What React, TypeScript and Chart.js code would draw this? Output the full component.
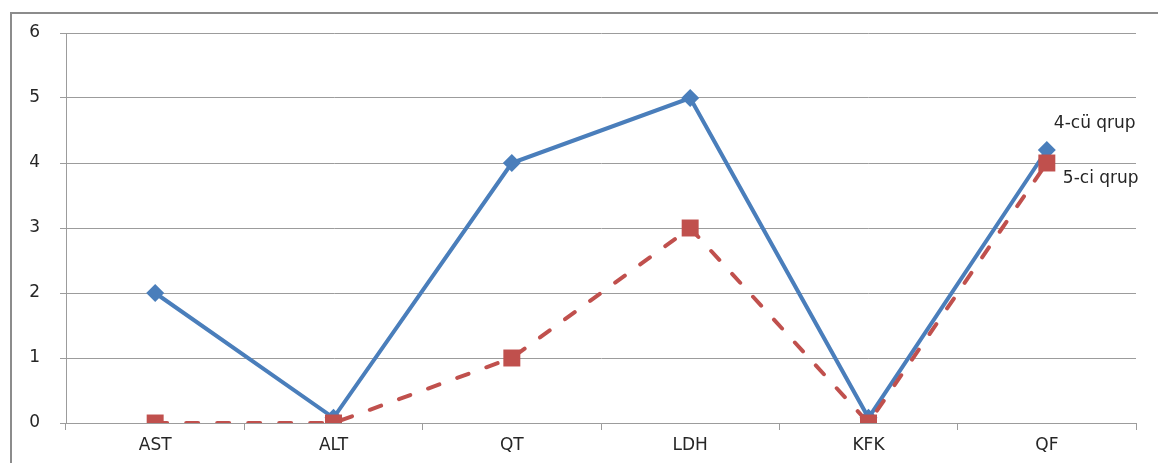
import React, { useEffect, useRef } from "react";
import { Chart, registerables } from "chart.js";

Chart.register(...registerables);

const categories = ["AST", "ALT", "QT", "LDH", "KFK", "QF"];
const group4 = [2, 0.08, 4, 5, 0.08, 4.2];
const group5 = [0, 0, 1, 3, 0, 4];
const seriesNames = ["4-cü qrup", "5-ci qrup"];
const yTicks = [0, 1, 2, 3, 4, 5, 6];

const BLUE = "#4A7EBB";
const RED = "#C0504D";
const GRID = "#9C9C9C";
const TEXT = "#262626";
const FONT = "'DejaVu Sans', sans-serif";

// Outer frame around the chart
const framePlugin = {
  id: "frame",
  beforeDraw(chart: any) {
    const ctx = chart.ctx;
    ctx.save();
    ctx.strokeStyle = "#8C8C8C";
    ctx.lineWidth = 2;
    ctx.strokeRect(11, 13, chart.width + 20, chart.height + 20);
    ctx.restore();
  },
};

// Series names written beside the last point of each line
const endLabelPlugin = {
  id: "endLabels",
  afterDatasetsDraw(chart: any) {
    const ctx = chart.ctx;
    ctx.save();
    ctx.font = `17px ${FONT}`;
    ctx.fillStyle = TEXT;
    ctx.textBaseline = "middle";
    ctx.textAlign = "left";
    const offsets = [
      { dx: 7, dy: -26 },
      { dx: 16, dy: 16 },
    ];
    chart.data.datasets.forEach((ds: any, i: number) => {
      const meta = chart.getDatasetMeta(i);
      const pt = meta.data[meta.data.length - 1];
      const o = offsets[i];
      ctx.fillText(ds.label, pt.x + o.dx, pt.y + o.dy);
    });
    ctx.restore();
  },
};

export default function App() {
  const ref = useRef<HTMLCanvasElement | null>(null);

  useEffect(() => {
    if (!ref.current) return;
    const chart = new Chart(ref.current, {
      type: "line",
      data: {
        labels: categories,
        datasets: [
          {
            label: seriesNames[0],
            data: group4,
            borderColor: BLUE,
            backgroundColor: BLUE,
            borderWidth: 4,
            pointStyle: "rectRot",
            pointRadius: 9,
            pointBorderWidth: 0,
            pointBackgroundColor: BLUE,
            tension: 0,
            order: 1,
          },
          {
            label: seriesNames[1],
            data: group5,
            borderColor: RED,
            backgroundColor: RED,
            borderWidth: 4,
            borderDash: [12, 19],
            borderCapStyle: "round",
            pointStyle: "rect",
            pointRadius: 12,
            pointBorderWidth: 0,
            pointBackgroundColor: RED,
            tension: 0,
            order: 0,
          },
        ],
      },
      options: {
        responsive: false,
        animation: false,
        layout: { padding: { top: 33, right: 22, left: 0, bottom: 0 } },
        plugins: {
          legend: { display: false },
          tooltip: { enabled: false },
        },
        scales: {
          x: {
            offset: true,
            grid: {
              offset: true,
              drawOnChartArea: false,
              drawTicks: true,
              tickLength: 7,
              color: GRID,
            },
            border: { color: GRID, width: 1 },
            ticks: {
              font: { family: FONT, size: 17 },
              color: TEXT,
              padding: 5,
            },
            afterFit(scale: any) {
              scale.height = 40;
            },
          },
          y: {
            min: 0,
            max: 6,
            afterBuildTicks(scale: any) {
              scale.ticks = yTicks.map((v) => ({ value: v }));
            },
            grid: { color: GRID, tickLength: 6, lineWidth: 1 },
            border: { color: GRID, width: 1 },
            ticks: {
              font: { family: FONT, size: 17 },
              color: TEXT,
              padding: 20,
            },
            afterFit(scale: any) {
              scale.width = 66;
            },
          },
        },
      },
      plugins: [framePlugin, endLabelPlugin],
    });
    return () => chart.destroy();
  }, []);

  return (
    <div style={{ position: "absolute", left: 0, top: 0, width: 1158, height: 463, background: "#fff" }}>
      <canvas ref={ref} width={1158} height={463} style={{ display: "block" }} />
    </div>
  );
}
